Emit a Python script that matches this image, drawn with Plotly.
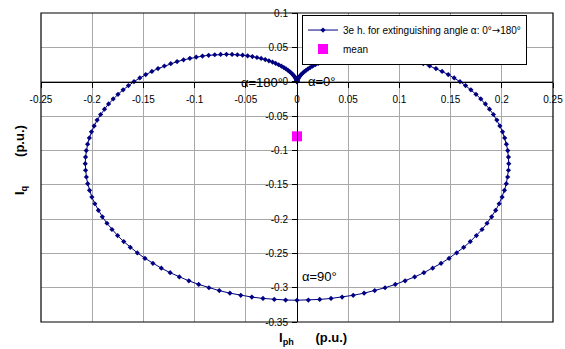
import plotly.graph_objects as go

# extinguishing angle alpha, 0..180 deg (1 deg steps)
alpha = list(range(0, 181))

# values read for alpha = 0..90 ; second half mirrors (Iph negated)
iph_half = [0.0000, 0.0000, 0.0000, 0.0001, 0.0002, 0.0004, 0.0007, 0.0011, 0.0017, 0.0024,
            0.0033, 0.0043, 0.0056, 0.0071, 0.0087, 0.0107, 0.0128, 0.0152, 0.0179, 0.0208,
            0.0239, 0.0274, 0.0310, 0.0350, 0.0391, 0.0436, 0.0482, 0.0531, 0.0582, 0.0634,
            0.0689, 0.0746, 0.0803, 0.0863, 0.0923, 0.0984, 0.1046, 0.1108, 0.1171, 0.1233,
            0.1295, 0.1357, 0.1417, 0.1477, 0.1535, 0.1592, 0.1646, 0.1698, 0.1748, 0.1795,
            0.1840, 0.1880, 0.1918, 0.1952, 0.1981, 0.2007, 0.2028, 0.2045, 0.2058, 0.2065,
            0.2068, 0.2065, 0.2057, 0.2044, 0.2026, 0.2003, 0.1974, 0.1940, 0.1901, 0.1856,
            0.1807, 0.1752, 0.1692, 0.1628, 0.1559, 0.1485, 0.1407, 0.1325, 0.1239, 0.1149,
            0.1056, 0.0960, 0.0860, 0.0759, 0.0655, 0.0549, 0.0441, 0.0332, 0.0222, 0.0111,
            0.0000]
iq_half = [0.0000, 0.0001, 0.0004, 0.0009, 0.0015, 0.0024, 0.0034, 0.0046, 0.0059, 0.0074,
           0.0090, 0.0107, 0.0126, 0.0145, 0.0164, 0.0185, 0.0205, 0.0226, 0.0246, 0.0266,
           0.0285, 0.0304, 0.0321, 0.0338, 0.0352, 0.0365, 0.0377, 0.0386, 0.0392, 0.0396,
           0.0398, 0.0396, 0.0392, 0.0384, 0.0373, 0.0358, 0.0340, 0.0318, 0.0292, 0.0262,
           0.0228, 0.0191, 0.0149, 0.0103, 0.0054, 0.0000, -0.0057, -0.0119, -0.0184, -0.0252,
           -0.0324, -0.0400, -0.0478, -0.0560, -0.0644, -0.0731, -0.0820, -0.0911, -0.1004, -0.1098,
           -0.1194, -0.1290, -0.1388, -0.1485, -0.1583, -0.1681, -0.1778, -0.1874, -0.1968, -0.2062,
           -0.2153, -0.2242, -0.2329, -0.2413, -0.2494, -0.2572, -0.2646, -0.2716, -0.2782, -0.2844,
           -0.2901, -0.2953, -0.3001, -0.3043, -0.3080, -0.3111, -0.3137, -0.3157, -0.3171, -0.3180,
           -0.3183]

iph = iph_half + [-v for v in reversed(iph_half[:-1])]
iq = iq_half + list(reversed(iq_half[:-1]))

mean_iph = [0.0]
mean_iq = [-0.0796]

xticks = [-0.25, -0.2, -0.15, -0.1, -0.05, 0, 0.05, 0.1, 0.15, 0.2, 0.25]
xticklabels = ["-0.25", "-0.2", "-0.15", "-0.1", "-0.05", "0", "0.05", "0.1", "0.15", "0.2", "0.25"]
yticks = [0.1, 0.05, 0, -0.05, -0.1, -0.15, -0.2, -0.25, -0.3, -0.35]
yticklabels = ["0.1", "0.05", "0", "-0.05", "-0.1", "-0.15", "-0.2", "-0.25", "-0.3", "-0.35"]

FONT = "Arial, Liberation Sans, sans-serif"
NAVY = "#000080"

fig = go.Figure()
fig.add_trace(go.Scatter(
    x=iph, y=iq, mode="lines+markers",
    name="3e h. for extinguishing angle α: 0°<span style='font-family:DejaVu Sans'>→</span>180°",
    line=dict(color=NAVY, width=1),
    marker=dict(symbol="diamond", size=4, color=NAVY),
))
fig.add_trace(go.Scatter(
    x=mean_iph, y=mean_iq, mode="markers", name="mean",
    marker=dict(symbol="square", size=10, color="#ff00ff"),
))

ypos0 = (0 - (-0.35)) / 0.45

fig.update_layout(
    width=565, height=349,
    margin=dict(l=41, r=12, t=13, b=27, autoexpand=False),
    paper_bgcolor="white", plot_bgcolor="white",
    font=dict(family=FONT, size=10, color="black"),
    showlegend=True,
    legend=dict(x=(302 - 41) / 512, y=0.995, xanchor="left", yanchor="top",
                bordercolor="black", borderwidth=1, bgcolor="white",
                font=dict(size=10, family=FONT), tracegroupgap=0,
                itemwidth=30),
    xaxis=dict(range=[-0.25, 0.25], tickvals=xticks, ticktext=xticklabels,
               anchor="free", position=ypos0, showline=True, linecolor="black", linewidth=1,
               ticks="outside", ticklen=5, tickcolor="black", automargin=False,
               showgrid=True, gridcolor="#a8a8a8", gridwidth=1, zeroline=False,
               tickfont=dict(size=10, family=FONT), ticklabelstandoff=3),
    yaxis=dict(range=[-0.35, 0.1], tickvals=yticks, ticktext=yticklabels,
               anchor="free", position=0.5, showline=True, linecolor="black", linewidth=1,
               ticks="outside", ticklen=5, tickcolor="black", automargin=False,
               showgrid=True, gridcolor="#a8a8a8", gridwidth=1, zeroline=False,
               tickfont=dict(size=10, family=FONT), ticklabelstandoff=2),
    shapes=[dict(type="rect", xref="paper", yref="paper", x0=0, x1=1, y0=0, y1=1,
                 line=dict(color="black", width=1.2), layer="above")],
    annotations=[
        dict(x=-0.012, y=-0.001, xref="x", yref="y", text="α=180°", showarrow=False,
             xanchor="right", yanchor="middle", font=dict(size=13, family=FONT)),
        dict(x=0.009, y=0.0, xref="x", yref="y", text="α=0°", showarrow=False,
             xanchor="left", yanchor="middle", font=dict(size=13, family=FONT)),
        dict(x=0.003, y=-0.284, xref="x", yref="y", text="α=90°", showarrow=False,
             xanchor="left", yanchor="middle", font=dict(size=13, family=FONT)),
        dict(x=(20 - 41) / 512, y=(322 - 160) / 309, xref="paper", yref="paper",
             text="<b>I<sub>q</sub>        (p.u.)</b>",
             showarrow=False, textangle=-90, font=dict(size=13, family=FONT),
             xanchor="center", yanchor="middle"),
        dict(x=(313 - 41) / 512, y=-0.052, xref="paper", yref="paper",
             text="<b>I<sub>ph</sub>      (p.u.)</b>", showarrow=False,
             font=dict(size=13, family=FONT), xanchor="center", yanchor="middle"),
    ],
)

fig.write_html("out.html", config={"displayModeBar": False},
               post_script="document.body.style.margin='0px';document.body.style.overflow='hidden';")
